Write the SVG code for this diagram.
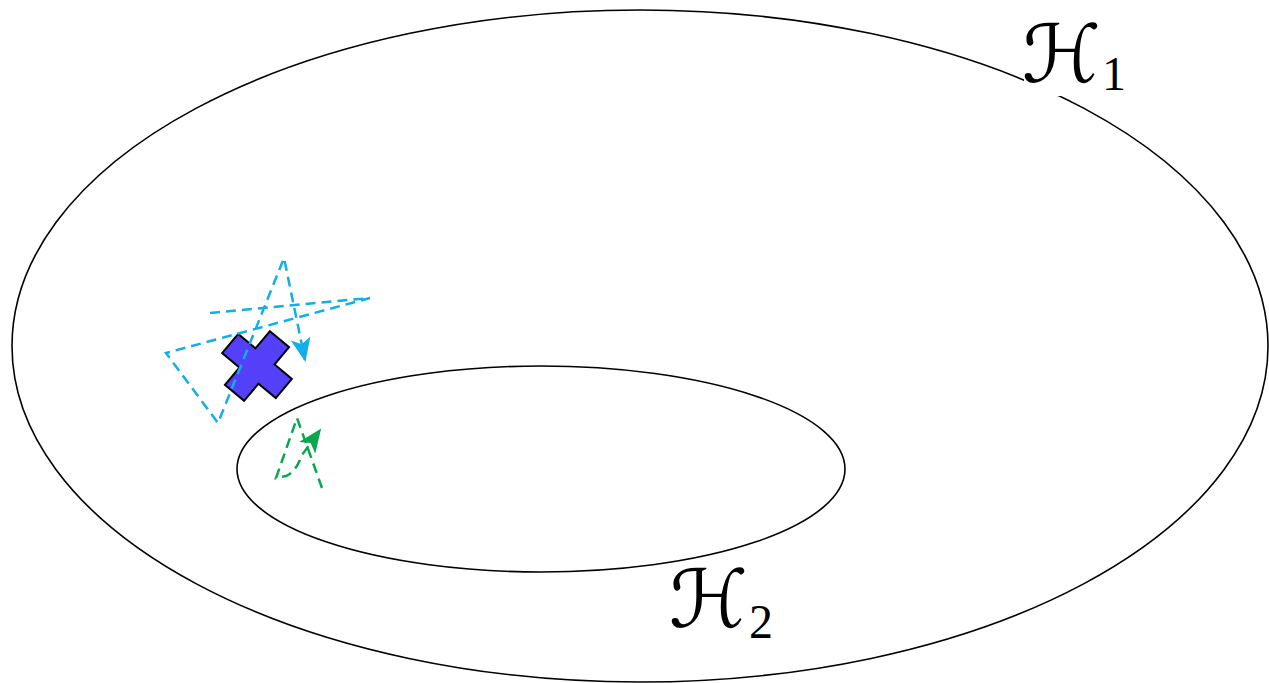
<svg xmlns="http://www.w3.org/2000/svg" width="1269" height="683" viewBox="0 0 1269 683">
<style>
.ell{fill:none;stroke:#000;stroke-width:1.6}
.lbl{font-family:"DejaVu Sans","Noto Sans",sans-serif;fill:#000}
.sub{font-family:"Liberation Serif","DejaVu Serif",serif;fill:#000}
.blue{fill:none;stroke:#12aee8;stroke-width:2.5;stroke-dasharray:10 6}
.green{fill:none;stroke:#0aa64f;stroke-width:2.5;stroke-dasharray:10 6}
</style>
<defs>
<marker id="ab" viewBox="0 0 24 20" refX="22" refY="10" markerWidth="24" markerHeight="20" markerUnits="userSpaceOnUse" orient="auto">
<path d="M0,0 L24,10 L0,20 L6,10 Z" fill="#12aee8"/>
</marker>
<marker id="ag" viewBox="0 0 24 20" refX="22" refY="10" markerWidth="24" markerHeight="20" markerUnits="userSpaceOnUse" orient="auto">
<path d="M0,0 L24,10 L0,20 L6,10 Z" fill="#0aa64f"/>
</marker>
</defs>
<rect width="1269" height="683" fill="#fff"/>
<g id="h1">
<ellipse class="ell" cx="640" cy="346" rx="628" ry="336"/>
</g>
<g id="h2">
<ellipse class="ell" cx="541" cy="469" rx="304" ry="103"/>
</g>
<g id="labels">
<rect x="1024" y="20" width="104" height="76" fill="#fff"/>
<text class="lbl" x="1022" y="82" font-size="80">ℋ</text>
<text class="sub" x="1102" y="90" font-size="48">1</text>
<text class="lbl" x="669" y="627" font-size="80">ℋ</text>
<text class="sub" x="749" y="638" font-size="48">2</text>
</g>
<g id="marker-cross">
<polygon transform="translate(257,366) rotate(40)" points="-12.5,-35 12.5,-35 12.5,-12.5 35,-12.5 35,12.5 12.5,12.5 12.5,35 -12.5,35 -12.5,12.5 -35,12.5 -35,-12.5 -12.5,-12.5" fill="#5540fa" stroke="#000" stroke-width="2" stroke-linejoin="miter"/>
</g>
<g id="connectors">
<polyline class="blue" points="210,313 370,298 166,353 218,423 284,258 305,360" marker-end="url(#ab)"/>
<path class="green" d="M322,488 L297,418 L276,478 L286,476 Q296,472 302,455 L320,430" marker-end="url(#ag)"/>
</g>
</svg>
